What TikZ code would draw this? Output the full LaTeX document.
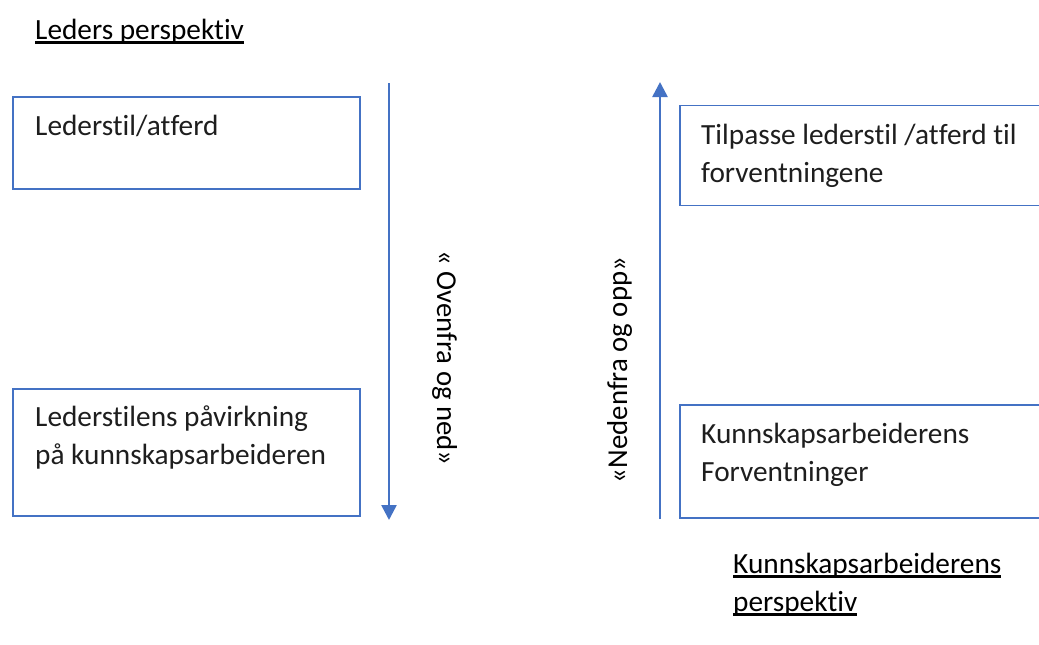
\documentclass[tikz,border=0pt]{standalone}
\usepackage{fontspec}
\setmainfont{Carlito}[Ligatures=NoCommon]
\usetikzlibrary{arrows.meta}
\definecolor{boxblue}{HTML}{4472C4}
\definecolor{txt}{HTML}{1E1E1E}
\newcommand\myul[1]{\leavevmode\setbox0\hbox{#1}\rlap{\vrule height -2.2pt depth 4.6pt width \wd0}\box0}
\newcommand\txtlines[1]{\parbox[t]{12cm}{\raggedright\fontsize{29.3}{38}\selectfont #1}}
\tikzset{
  stdbox/.style={draw=boxblue, line width=1.7pt, rectangle, inner sep=0pt, fill=white},
  boxtext/.style={anchor=base west, inner sep=0pt, text=txt, font=\fontsize{29.3}{38}\selectfont},
  headtext/.style={anchor=base west, inner sep=0pt, text=black, font=\fontsize{29.3}{38}\selectfont},
  flowarrow/.style={draw=boxblue, line width=2.6pt, -{Triangle[width=15pt,length=15pt]}},
  sidetext/.style={anchor=base, inner sep=0pt, text=black, font=\fontsize{28.8}{34}\selectfont}
}
\begin{document}
\begin{tikzpicture}[x=1pt,y=1pt]
\useasboundingbox (0,0) rectangle (1039,-645);
\clip (0,0) rectangle (1039,-645);
% headings
\node[headtext] (hl) at (35,-39) {\myul{Leders perspektiv}};
\node[headtext] (hr) at (733,-573) {\txtlines{\myul{Kunnskapsarbeiderens}\\\myul{perspektiv}}};
% left boxes
\node[stdbox, minimum width=347pt, minimum height=92pt] (b1) at (186.5,-143) {};
\node[boxtext] (t1) at (35,-135) {Lederstil/atferd};
\node[stdbox, minimum width=347pt, minimum height=127pt] (b2) at (186.5,-452.5) {};
\node[boxtext] (t2) at (35,-426) {\txtlines{Lederstilens påvirkning\\på kunnskapsarbeideren}};
% right boxes (cut by the right edge)
\node[stdbox, minimum width=380pt, minimum height=100pt] (b3) at (870,-155.5) {};
\node[boxtext] (t3) at (701,-144) {\txtlines{Tilpasse lederstil /atferd til\\forventningene}};
\node[stdbox, minimum width=380pt, minimum height=113pt] (b4) at (870,-461.5) {};
\node[boxtext] (t4) at (701,-443) {\txtlines{Kunnskapsarbeiderens\\Forventninger}};
% arrows
\coordinate (a1s) at (389,-83);
\coordinate (a1e) at (389,-520);
\draw[flowarrow] (a1s) -- (a1e);
\coordinate (a2s) at (660,-519);
\coordinate (a2e) at (660,-82);
\draw[flowarrow] (a2s) -- (a2e);
% rotated labels
\node[sidetext, rotate=-90] (l1) at (437,-358) {« Ovenfra og ned»};
\node[sidetext, rotate=90] (l2) at (627,-370) {«Nedenfra og opp»};
\end{tikzpicture}
\end{document}
